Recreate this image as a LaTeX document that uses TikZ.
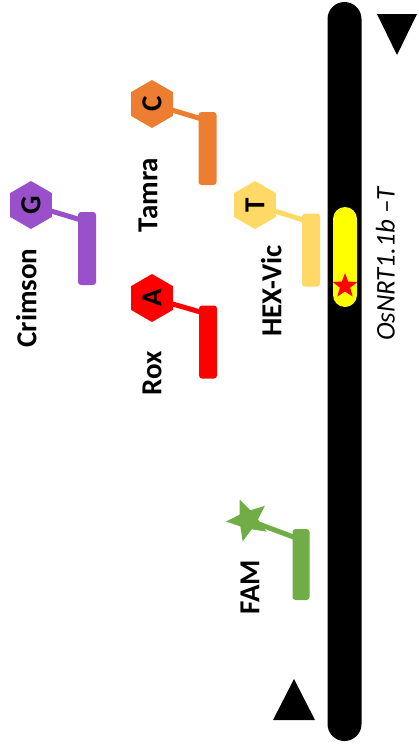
\documentclass[tikz,border=0pt]{standalone}
\usepackage{fontspec}
\setmainfont{Carlito}
\usetikzlibrary{shapes.geometric}
\definecolor{ctamra}{HTML}{ED7D31}
\definecolor{ccrimson}{HTML}{9A50CA}
\definecolor{crox}{HTML}{FF0000}
\definecolor{chex}{HTML}{FFD966}
\definecolor{cfam}{HTML}{70AD47}
\definecolor{cprobe}{HTML}{FFFF00}
\newcommand{\lblfont}{\fontsize{29pt}{32pt}\selectfont\bfseries}
\newcommand{\genefont}{\fontsize{27pt}{30pt}\selectfont\itshape}
\begin{document}
\begin{tikzpicture}[x=1pt,y=-1pt,
  hexa/.style={regular polygon, regular polygon sides=6, minimum size=48pt, inner sep=0pt, rotate=90, fill=#1, font=\lblfont},
  oligo/.style={rounded corners=3pt, minimum width=18pt, minimum height=73pt, fill=#1, inner sep=0pt},
  linker/.style={line width=5pt, draw=#1},
  lbl/.style={rotate=90, font=\lblfont, inner sep=0pt, text height=18.7pt, text depth=0pt},
  tri/.style={fill=black}
]
\useasboundingbox (0,0) rectangle (418,750);
% template strand
\node (bar) [fill=black, rounded corners=17pt, minimum width=34pt, minimum height=739pt, inner sep=0pt] at (344.5,371.5) {};
\node (probe) [fill=cprobe, rounded corners=12pt, minimum width=24pt, minimum height=100pt, inner sep=0pt] at (345,257) {};
\node (redstar) [star, star points=5, star point ratio=2.4, fill=red, minimum size=26pt, inner sep=0pt] at (345,286) {};
\node (gene) [rotate=90, font=\genefont, inner sep=0pt, text height=17.4pt, text depth=0pt] at (386,264) {OsNRT1.1b –T};
% triangles
\fill[tri] (377,14) -- (417,14) -- (397,55) -- cycle;
\fill[tri] (273,720) -- (315,720) -- (294,679) -- cycle;
% oligos
\node (oT) [oligo=ctamra] at (207.5,148.5) {};
\node (oC) [oligo=ccrimson] at (87,248.5) {};
\node (oR) [oligo=crox] at (208,342) {};
\node (oH) [oligo=chex] at (311,250) {};
\node (oF) [oligo=cfam, minimum width=17pt, minimum height=71pt] at (301,564.5) {};
% linkers
\coordinate (hTc) at (152,104);
\coordinate (hCc) at (31,205);
\coordinate (hRc) at (152,298);
\coordinate (hHc) at (255,205);
\coordinate (sFc) at (248,520);
\draw[linker=ctamra] (hTc) -- ([shift={(6,8)}]oT.north west);
\draw[linker=ccrimson] (hCc) -- ([shift={(6,9)}]oC.north west);
\draw[linker=crox] (hRc) -- ([shift={(6,8)}]oR.north west);
\draw[linker=chex] (hHc) -- ([shift={(6,8)}]oH.north west);
\draw[linker=cfam] (sFc) -- ([shift={(6,10)}]oF.north west);
% fluorophores
\node (hT) [hexa=ctamra] at (hTc) {C};
\node (hC) [hexa=ccrimson] at (hCc) {G};
\node (hR) [hexa=crox] at (hRc) {A};
\node (hH) [hexa=chex] at (hHc) {T};
\node (sF) [star, star points=5, star point ratio=2.2, shape border rotate=-50, fill=cfam, minimum size=44pt, inner sep=0pt] at (sFc) {};
% labels
\node (lC) [lbl] at (27,298) {Crimson};
\node (lT) [lbl] at (148,195) {Tamra};
\node (lR) [lbl] at (152,373) {Rox};
\node (lH) [lbl] at (272,291) {HEX-Vic};
\node (lF) [lbl] at (250,587) {FAM};
\end{tikzpicture}
\end{document}
